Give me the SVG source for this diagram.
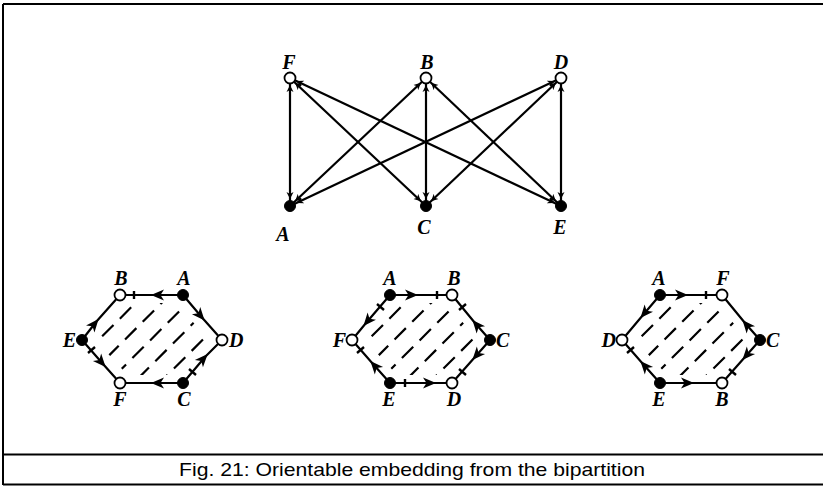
<svg xmlns="http://www.w3.org/2000/svg" width="824" height="487" viewBox="0 0 824 487">
<style>
.edge{stroke:#000;stroke-width:2.2;fill:none}
.e2{stroke:#000;stroke-width:2.2;fill:none;marker-mid:url(#mid)}
.tick{stroke:#000;stroke-width:2.4}
.open{fill:#fff;stroke:#000;stroke-width:1.8}
.full{fill:#000;stroke:#000;stroke-width:1}
.lbl{font-family:"Liberation Serif",serif;font-style:italic;font-weight:bold;font-size:20px;fill:#000}
.cap{font-family:"Liberation Sans","DejaVu Sans",sans-serif;font-size:19px;fill:#000}
.hatch line{stroke:#000;stroke-width:2.2;stroke-dasharray:16 9}
</style>
<defs>
<marker id="tip" viewBox="0 -4 16 8" refX="14" refY="0" markerWidth="16" markerHeight="8" markerUnits="userSpaceOnUse" orient="auto-start-reverse">
<path d="M0,-3.5 L7,0 L0,3.5 L2,0 z" fill="#000"/>
</marker>
<marker id="mid" viewBox="-11 -6 16 12" refX="0" refY="0" markerWidth="16" markerHeight="12" markerUnits="userSpaceOnUse" orient="auto">
<path d="M-9,-5.5 L4,0 L-9,5.5 L-5.5,0 z" fill="#000"/>
</marker>
<clipPath id="hexclip"><polygon points="-24,-36 24,-36 57,0 24,36 -24,36 -57,0"/></clipPath>
<g id="hatch" class="hatch" clip-path="url(#hexclip)">
<line x1="-70" y1="70" x2="70" y2="-70" style="stroke-dashoffset:3"/>
<line x1="-57" y1="83" x2="83" y2="-57" style="stroke-dashoffset:14"/>
<line x1="-44" y1="96" x2="96" y2="-44" style="stroke-dashoffset:6"/>
<line x1="-31" y1="109" x2="109" y2="-31" style="stroke-dashoffset:18"/>
<line x1="-83" y1="57" x2="57" y2="-83" style="stroke-dashoffset:20"/>
<line x1="-96" y1="44" x2="44" y2="-96" style="stroke-dashoffset:9"/>
<line x1="-109" y1="31" x2="31" y2="-109" style="stroke-dashoffset:1"/>
</g>
</defs>
<rect width="824" height="487" fill="#fff"/>
<g id="frame" stroke="#000" stroke-width="2" fill="none">
<path d="M3,4 H823 M3,4 V485 M3,454.5 H823 M3,484.5 H823"/>
</g>

<g id="connectors">
<g id="top-edges">
<line class="edge" x1="290" y1="78" x2="290" y2="206" marker-start="url(#tip)" marker-end="url(#tip)"/>
<line class="edge" x1="290" y1="78" x2="426" y2="206" marker-start="url(#tip)" marker-end="url(#tip)"/>
<line class="edge" x1="290" y1="78" x2="561" y2="206" marker-start="url(#tip)" marker-end="url(#tip)"/>
<line class="edge" x1="426" y1="78" x2="290" y2="206" marker-start="url(#tip)" marker-end="url(#tip)"/>
<line class="edge" x1="426" y1="78" x2="426" y2="206" marker-start="url(#tip)" marker-end="url(#tip)"/>
<line class="edge" x1="426" y1="78" x2="561" y2="206" marker-start="url(#tip)" marker-end="url(#tip)"/>
<line class="edge" x1="561" y1="78" x2="290" y2="206" marker-start="url(#tip)" marker-end="url(#tip)"/>
<line class="edge" x1="561" y1="78" x2="426" y2="206" marker-start="url(#tip)" marker-end="url(#tip)"/>
<line class="edge" x1="561" y1="78" x2="561" y2="206" marker-start="url(#tip)" marker-end="url(#tip)"/>
</g>
<g id="hex1-edges">
<path class="e2" d="M183,295 L155,295 L120,295"/>
<path class="e2" d="M183,295 L202,317.5 L222,340"/>
<path class="e2" d="M183,383 L205,357 L222,340"/>
<path class="e2" d="M183,383 L155,383 L120,383"/>
<path class="e2" d="M82,340 L96,322 L120,295"/>
<path class="e2" d="M82,340 L103,364 L120,383"/>
<line class="tick" x1="134" y1="291" x2="134" y2="299"/>
<line class="tick" x1="189" y1="369" x2="196" y2="375"/>
<line class="tick" x1="88" y1="353" x2="95" y2="347"/>
</g>
<g id="hex2-edges">
<path class="e2" d="M390,295 L414,295 L452,295"/>
<path class="e2" d="M490,340 L475,323 L452,295"/>
<path class="e2" d="M490,340 L475,357 L452,383"/>
<path class="e2" d="M390,383 L432,383 L452,383"/>
<path class="e2" d="M390,383 L373,364 L352,340"/>
<path class="e2" d="M390,295 L366,323 L352,340"/>
<line class="tick" x1="437" y1="291" x2="437" y2="299"/>
<line class="tick" x1="459" y1="310" x2="466" y2="304"/>
<line class="tick" x1="459" y1="369" x2="466" y2="375"/>
<line class="tick" x1="405" y1="379" x2="405" y2="387"/>
<line class="tick" x1="357" y1="353" x2="364" y2="347"/>
<line class="tick" x1="377" y1="304" x2="384" y2="310"/>
</g>
<g id="hex3-edges">
<path class="e2" d="M660,295 L684,295 L722,295"/>
<path class="e2" d="M760,340 L745,323 L722,295"/>
<path class="e2" d="M760,340 L745,357 L722,383"/>
<path class="e2" d="M660,383 L690,383 L722,383"/>
<path class="e2" d="M660,383 L643,364 L622,340"/>
<path class="e2" d="M660,295 L643,315 L622,340"/>
<line class="tick" x1="706" y1="291" x2="706" y2="299"/>
<line class="tick" x1="729" y1="369" x2="736" y2="375"/>
<line class="tick" x1="627" y1="353" x2="634" y2="347"/>
</g>
</g>

<g id="hatching">
<use href="#hatch" transform="translate(151.5,339)"/>
<use href="#hatch" transform="translate(421,339)"/>
<use href="#hatch" transform="translate(691,339)"/>
</g>

<g id="top-nodes">
<g id="nF"><circle class="open" cx="290" cy="78" r="5.5"/><text class="lbl" x="289" y="69" text-anchor="middle">F</text></g>
<g id="nB"><circle class="open" cx="426" cy="78" r="5.5"/><text class="lbl" x="427" y="69" text-anchor="middle">B</text></g>
<g id="nD"><circle class="open" cx="561" cy="78" r="5.5"/><text class="lbl" x="561" y="69" text-anchor="middle">D</text></g>
<g id="nA"><circle class="full" cx="290" cy="206" r="5.5"/><text class="lbl" x="283" y="241" text-anchor="middle">A</text></g>
<g id="nC"><circle class="full" cx="426" cy="206" r="5.5"/><text class="lbl" x="424" y="234" text-anchor="middle">C</text></g>
<g id="nE"><circle class="full" cx="561" cy="206" r="5.5"/><text class="lbl" x="560" y="234" text-anchor="middle">E</text></g>
</g>

<g id="hex1-nodes">
<g id="h1B"><circle class="open" cx="120" cy="295" r="5.5"/><text class="lbl" x="121" y="285" text-anchor="middle">B</text></g>
<g id="h1A"><circle class="full" cx="183" cy="295" r="5.5"/><text class="lbl" x="184" y="285" text-anchor="middle">A</text></g>
<g id="h1D"><circle class="open" cx="222" cy="340" r="5.5"/><text class="lbl" x="229" y="347">D</text></g>
<g id="h1C"><circle class="full" cx="183" cy="383" r="5.5"/><text class="lbl" x="184" y="406" text-anchor="middle">C</text></g>
<g id="h1F"><circle class="open" cx="120" cy="383" r="5.5"/><text class="lbl" x="120" y="406" text-anchor="middle">F</text></g>
<g id="h1E"><circle class="full" cx="82" cy="340" r="5.5"/><text class="lbl" x="76" y="347" text-anchor="end">E</text></g>
</g>
<g id="hex2-nodes">
<g id="h2A"><circle class="full" cx="390" cy="295" r="5.5"/><text class="lbl" x="390" y="285" text-anchor="middle">A</text></g>
<g id="h2B"><circle class="open" cx="452" cy="295" r="5.5"/><text class="lbl" x="454" y="285" text-anchor="middle">B</text></g>
<g id="h2C"><circle class="full" cx="490" cy="340" r="5.5"/><text class="lbl" x="496" y="347">C</text></g>
<g id="h2D"><circle class="open" cx="452" cy="383" r="5.5"/><text class="lbl" x="454" y="406" text-anchor="middle">D</text></g>
<g id="h2E"><circle class="full" cx="390" cy="383" r="5.5"/><text class="lbl" x="389" y="406" text-anchor="middle">E</text></g>
<g id="h2F"><circle class="open" cx="352" cy="340" r="5.5"/><text class="lbl" x="346" y="347" text-anchor="end">F</text></g>
</g>
<g id="hex3-nodes">
<g id="h3A"><circle class="full" cx="660" cy="295" r="5.5"/><text class="lbl" x="659" y="285" text-anchor="middle">A</text></g>
<g id="h3F"><circle class="open" cx="722" cy="295" r="5.5"/><text class="lbl" x="723" y="285" text-anchor="middle">F</text></g>
<g id="h3C"><circle class="full" cx="760" cy="340" r="5.5"/><text class="lbl" x="766" y="347">C</text></g>
<g id="h3B"><circle class="open" cx="722" cy="383" r="5.5"/><text class="lbl" x="722" y="406" text-anchor="middle">B</text></g>
<g id="h3E"><circle class="full" cx="660" cy="383" r="5.5"/><text class="lbl" x="659" y="406" text-anchor="middle">E</text></g>
<g id="h3D"><circle class="open" cx="622" cy="340" r="5.5"/><text class="lbl" x="616" y="347" text-anchor="end">D</text></g>
</g>

<text class="cap" x="412" y="476" text-anchor="middle" textLength="466" lengthAdjust="spacingAndGlyphs">Fig. 21: Orientable embedding from the bipartition</text>
</svg>
